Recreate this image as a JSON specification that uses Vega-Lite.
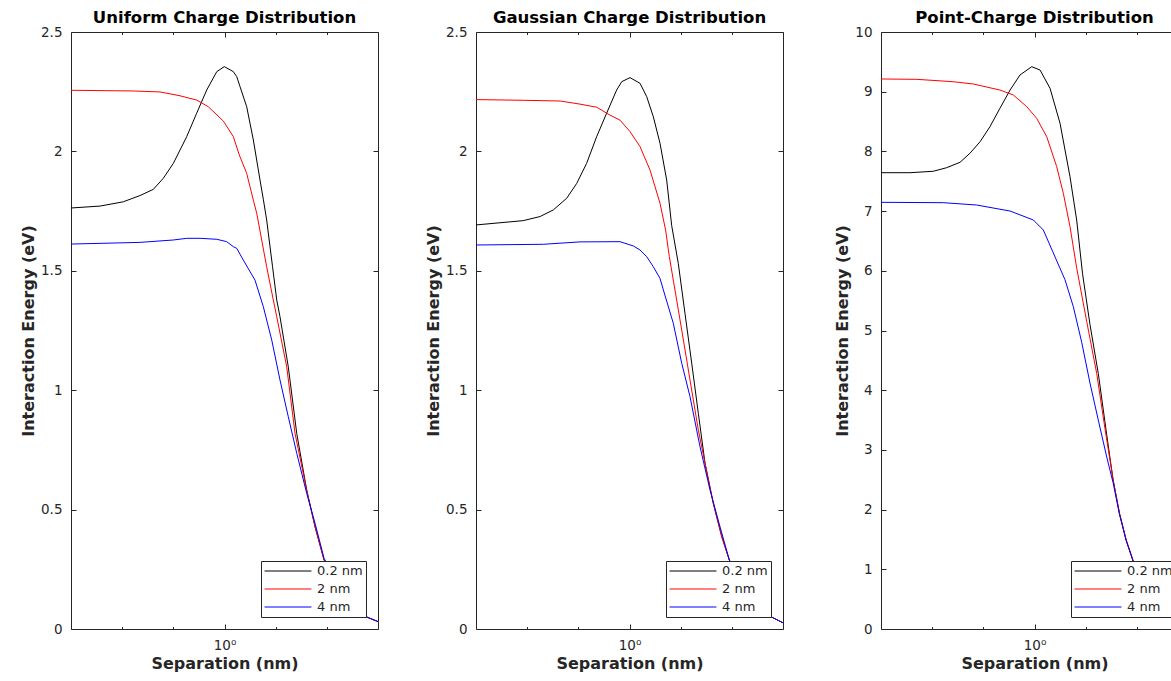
{
"$schema": "https://vega.github.io/schema/vega-lite/v6.json",
"padding": {"left": 20, "top": 9, "right": 0, "bottom": 0},
"background": "white",
"config": {
  "font": "DejaVu Sans",
  "view": {"stroke": null},
  "axis": {"domainColor": "#262626", "tickColor": "#262626", "labelColor": "#262626", "titleColor": "#262626", "labelFontSize": 13.5, "titleFontSize": 16, "titleFontWeight": "bold", "grid": false, "tickSize": -5, "labelPadding": 14, "domainWidth": 1, "tickWidth": 1, "titlePadding": 4},
  "title": {"fontSize": 16.5, "fontWeight": "bold", "color": "#000000", "offset": -1},
  "legend": {"orient": "bottom-right", "offset": 12, "title": null, "symbolType": "stroke", "symbolSize": 2200, "symbolStrokeWidth": 1, "labelFontSize": 13, "labelColor": "#262626", "fillColor": "white", "strokeColor": "#262626", "padding": 3, "rowPadding": 4, "labelOffset": 5, "clipHeight": 14}
},
"datasets": {"d": [
{"p":"U","s":"0.2 nm","x":0.2,"y":1.763},{"p":"U","s":"0.2 nm","x":0.271,"y":1.771},{"p":"U","s":"0.2 nm","x":0.346,"y":1.789},{"p":"U","s":"0.2 nm","x":0.412,"y":1.815},{"p":"U","s":"0.2 nm","x":0.474,"y":1.841},{"p":"U","s":"0.2 nm","x":0.526,"y":1.887},{"p":"U","s":"0.2 nm","x":0.585,"y":1.95},{"p":"U","s":"0.2 nm","x":0.673,"y":2.062},{"p":"U","s":"0.2 nm","x":0.747,"y":2.16},{"p":"U","s":"0.2 nm","x":0.83,"y":2.257},{"p":"U","s":"0.2 nm","x":0.922,"y":2.334},{"p":"U","s":"0.2 nm","x":0.998,"y":2.355},{"p":"U","s":"0.2 nm","x":1.097,"y":2.334},{"p":"U","s":"0.2 nm","x":1.137,"y":2.313},{"p":"U","s":"0.2 nm","x":1.177,"y":2.271},{"p":"U","s":"0.2 nm","x":1.262,"y":2.187},{"p":"U","s":"0.2 nm","x":1.353,"y":2.048},{"p":"U","s":"0.2 nm","x":1.451,"y":1.88},{"p":"U","s":"0.2 nm","x":1.502,"y":1.8},{"p":"U","s":"0.2 nm","x":1.556,"y":1.713},{"p":"U","s":"0.2 nm","x":1.655,"y":1.517},{"p":"U","s":"0.2 nm","x":1.729,"y":1.378},{"p":"U","s":"0.2 nm","x":1.789,"y":1.308},{"p":"U","s":"0.2 nm","x":1.952,"y":1.098},{"p":"U","s":"0.2 nm","x":2.133,"y":0.819},{"p":"U","s":"0.2 nm","x":2.368,"y":0.582},{"p":"U","s":"0.2 nm","x":2.584,"y":0.428},{"p":"U","s":"0.2 nm","x":2.84,"y":0.289},{"p":"U","s":"0.2 nm","x":3.357,"y":0.18},{"p":"U","s":"0.2 nm","x":3.808,"y":0.11},{"p":"U","s":"0.2 nm","x":4.395,"y":0.052},{"p":"U","s":"0.2 nm","x":5.0,"y":0.031},
{"p":"U","s":"2 nm","x":0.2,"y":2.256},{"p":"U","s":"2 nm","x":0.384,"y":2.253},{"p":"U","s":"2 nm","x":0.508,"y":2.249},{"p":"U","s":"2 nm","x":0.627,"y":2.233},{"p":"U","s":"2 nm","x":0.696,"y":2.222},{"p":"U","s":"2 nm","x":0.747,"y":2.215},{"p":"U","s":"2 nm","x":0.844,"y":2.187},{"p":"U","s":"2 nm","x":0.988,"y":2.127},{"p":"U","s":"2 nm","x":1.097,"y":2.062},{"p":"U","s":"2 nm","x":1.168,"y":1.985},{"p":"U","s":"2 nm","x":1.262,"y":1.908},{"p":"U","s":"2 nm","x":1.353,"y":1.796},{"p":"U","s":"2 nm","x":1.402,"y":1.741},{"p":"U","s":"2 nm","x":1.556,"y":1.517},{"p":"U","s":"2 nm","x":1.668,"y":1.378},{"p":"U","s":"2 nm","x":1.729,"y":1.308},{"p":"U","s":"2 nm","x":1.92,"y":1.098},{"p":"U","s":"2 nm","x":2.095,"y":0.819},{"p":"U","s":"2 nm","x":2.368,"y":0.58},{"p":"U","s":"2 nm","x":2.584,"y":0.428},{"p":"U","s":"2 nm","x":2.84,"y":0.289},{"p":"U","s":"2 nm","x":3.357,"y":0.18},{"p":"U","s":"2 nm","x":3.808,"y":0.11},{"p":"U","s":"2 nm","x":4.395,"y":0.052},{"p":"U","s":"2 nm","x":5.0,"y":0.031},
{"p":"U","s":"4 nm","x":0.2,"y":1.612},{"p":"U","s":"4 nm","x":0.412,"y":1.619},{"p":"U","s":"4 nm","x":0.585,"y":1.629},{"p":"U","s":"4 nm","x":0.673,"y":1.636},{"p":"U","s":"4 nm","x":0.774,"y":1.636},{"p":"U","s":"4 nm","x":0.922,"y":1.632},{"p":"U","s":"4 nm","x":1.023,"y":1.622},{"p":"U","s":"4 nm","x":1.097,"y":1.601},{"p":"U","s":"4 nm","x":1.137,"y":1.594},{"p":"U","s":"4 nm","x":1.218,"y":1.545},{"p":"U","s":"4 nm","x":1.377,"y":1.461},{"p":"U","s":"4 nm","x":1.502,"y":1.35},{"p":"U","s":"4 nm","x":1.641,"y":1.21},{"p":"U","s":"4 nm","x":1.789,"y":1.043},{"p":"U","s":"4 nm","x":1.952,"y":0.889},{"p":"U","s":"4 nm","x":2.133,"y":0.736},{"p":"U","s":"4 nm","x":2.368,"y":0.568},{"p":"U","s":"4 nm","x":2.584,"y":0.443},{"p":"U","s":"4 nm","x":2.84,"y":0.296},{"p":"U","s":"4 nm","x":3.357,"y":0.18},{"p":"U","s":"4 nm","x":3.808,"y":0.11},{"p":"U","s":"4 nm","x":4.395,"y":0.052},{"p":"U","s":"4 nm","x":5.0,"y":0.031},
{"p":"G","s":"0.2 nm","x":0.2,"y":1.692},{"p":"G","s":"0.2 nm","x":0.328,"y":1.71},{"p":"G","s":"0.2 nm","x":0.391,"y":1.727},{"p":"G","s":"0.2 nm","x":0.45,"y":1.755},{"p":"G","s":"0.2 nm","x":0.518,"y":1.804},{"p":"G","s":"0.2 nm","x":0.575,"y":1.866},{"p":"G","s":"0.2 nm","x":0.638,"y":1.95},{"p":"G","s":"0.2 nm","x":0.709,"y":2.062},{"p":"G","s":"0.2 nm","x":0.787,"y":2.16},{"p":"G","s":"0.2 nm","x":0.874,"y":2.257},{"p":"G","s":"0.2 nm","x":0.922,"y":2.292},{"p":"G","s":"0.2 nm","x":1.005,"y":2.309},{"p":"G","s":"0.2 nm","x":1.117,"y":2.285},{"p":"G","s":"0.2 nm","x":1.198,"y":2.229},{"p":"G","s":"0.2 nm","x":1.284,"y":2.145},{"p":"G","s":"0.2 nm","x":1.377,"y":2.034},{"p":"G","s":"0.2 nm","x":1.477,"y":1.88},{"p":"G","s":"0.2 nm","x":1.556,"y":1.69},{"p":"G","s":"0.2 nm","x":1.668,"y":1.531},{"p":"G","s":"0.2 nm","x":1.789,"y":1.322},{"p":"G","s":"0.2 nm","x":1.92,"y":1.113},{"p":"G","s":"0.2 nm","x":2.058,"y":0.903},{"p":"G","s":"0.2 nm","x":2.208,"y":0.694},{"p":"G","s":"0.2 nm","x":2.408,"y":0.526},{"p":"G","s":"0.2 nm","x":2.63,"y":0.387},{"p":"G","s":"0.2 nm","x":2.848,"y":0.289},{"p":"G","s":"0.2 nm","x":3.357,"y":0.17},{"p":"G","s":"0.2 nm","x":3.808,"y":0.1},{"p":"G","s":"0.2 nm","x":4.395,"y":0.052},{"p":"G","s":"0.2 nm","x":5.0,"y":0.026},
{"p":"G","s":"2 nm","x":0.2,"y":2.217},{"p":"G","s":"2 nm","x":0.328,"y":2.214},{"p":"G","s":"2 nm","x":0.483,"y":2.211},{"p":"G","s":"2 nm","x":0.595,"y":2.198},{"p":"G","s":"2 nm","x":0.709,"y":2.185},{"p":"G","s":"2 nm","x":0.815,"y":2.152},{"p":"G","s":"2 nm","x":0.905,"y":2.131},{"p":"G","s":"2 nm","x":1.005,"y":2.083},{"p":"G","s":"2 nm","x":1.117,"y":2.02},{"p":"G","s":"2 nm","x":1.24,"y":1.922},{"p":"G","s":"2 nm","x":1.377,"y":1.783},{"p":"G","s":"2 nm","x":1.46,"y":1.671},{"p":"G","s":"2 nm","x":1.518,"y":1.56},{"p":"G","s":"2 nm","x":1.583,"y":1.461},{"p":"G","s":"2 nm","x":1.729,"y":1.252},{"p":"G","s":"2 nm","x":1.886,"y":1.043},{"p":"G","s":"2 nm","x":2.058,"y":0.833},{"p":"G","s":"2 nm","x":2.208,"y":0.694},{"p":"G","s":"2 nm","x":2.408,"y":0.526},{"p":"G","s":"2 nm","x":2.63,"y":0.387},{"p":"G","s":"2 nm","x":2.848,"y":0.289},{"p":"G","s":"2 nm","x":3.357,"y":0.17},{"p":"G","s":"2 nm","x":3.808,"y":0.1},{"p":"G","s":"2 nm","x":4.395,"y":0.052},{"p":"G","s":"2 nm","x":5.0,"y":0.026},
{"p":"G","s":"4 nm","x":0.2,"y":1.608},{"p":"G","s":"4 nm","x":0.405,"y":1.611},{"p":"G","s":"4 nm","x":0.595,"y":1.621},{"p":"G","s":"4 nm","x":0.905,"y":1.622},{"p":"G","s":"4 nm","x":1.041,"y":1.604},{"p":"G","s":"4 nm","x":1.117,"y":1.587},{"p":"G","s":"4 nm","x":1.198,"y":1.559},{"p":"G","s":"4 nm","x":1.284,"y":1.517},{"p":"G","s":"4 nm","x":1.377,"y":1.468},{"p":"G","s":"4 nm","x":1.426,"y":1.42},{"p":"G","s":"4 nm","x":1.583,"y":1.28},{"p":"G","s":"4 nm","x":1.729,"y":1.113},{"p":"G","s":"4 nm","x":1.886,"y":0.973},{"p":"G","s":"4 nm","x":2.095,"y":0.763},{"p":"G","s":"4 nm","x":2.326,"y":0.582},{"p":"G","s":"4 nm","x":2.584,"y":0.428},{"p":"G","s":"4 nm","x":2.848,"y":0.289},{"p":"G","s":"4 nm","x":3.357,"y":0.17},{"p":"G","s":"4 nm","x":3.808,"y":0.1},{"p":"G","s":"4 nm","x":4.395,"y":0.052},{"p":"G","s":"4 nm","x":5.0,"y":0.026},
{"p":"P","s":"0.2 nm","x":0.2,"y":7.643},{"p":"P","s":"0.2 nm","x":0.271,"y":7.643},{"p":"P","s":"0.2 nm","x":0.346,"y":7.667},{"p":"P","s":"0.2 nm","x":0.398,"y":7.727},{"p":"P","s":"0.2 nm","x":0.458,"y":7.817},{"p":"P","s":"0.2 nm","x":0.508,"y":7.968},{"p":"P","s":"0.2 nm","x":0.565,"y":8.162},{"p":"P","s":"0.2 nm","x":0.627,"y":8.414},{"p":"P","s":"0.2 nm","x":0.696,"y":8.722},{"p":"P","s":"0.2 nm","x":0.774,"y":9.028},{"p":"P","s":"0.2 nm","x":0.859,"y":9.28},{"p":"P","s":"0.2 nm","x":0.971,"y":9.419},{"p":"P","s":"0.2 nm","x":1.06,"y":9.363},{"p":"P","s":"0.2 nm","x":1.177,"y":9.057},{"p":"P","s":"0.2 nm","x":1.307,"y":8.471},{"p":"P","s":"0.2 nm","x":1.451,"y":7.576},{"p":"P","s":"0.2 nm","x":1.556,"y":6.851},{"p":"P","s":"0.2 nm","x":1.655,"y":5.95},{"p":"P","s":"0.2 nm","x":1.789,"y":5.1},{"p":"P","s":"0.2 nm","x":1.952,"y":4.28},{"p":"P","s":"0.2 nm","x":2.133,"y":3.25},{"p":"P","s":"0.2 nm","x":2.28,"y":2.5},{"p":"P","s":"0.2 nm","x":2.437,"y":1.94},{"p":"P","s":"0.2 nm","x":2.615,"y":1.49},{"p":"P","s":"0.2 nm","x":2.82,"y":1.127},{"p":"P","s":"0.2 nm","x":3.357,"y":0.72},{"p":"P","s":"0.2 nm","x":3.808,"y":0.45},{"p":"P","s":"0.2 nm","x":4.395,"y":0.2},{"p":"P","s":"0.2 nm","x":5.0,"y":0.12},
{"p":"P","s":"2 nm","x":0.2,"y":9.213},{"p":"P","s":"2 nm","x":0.291,"y":9.207},{"p":"P","s":"2 nm","x":0.427,"y":9.167},{"p":"P","s":"2 nm","x":0.526,"y":9.129},{"p":"P","s":"2 nm","x":0.696,"y":9.028},{"p":"P","s":"2 nm","x":0.801,"y":8.945},{"p":"P","s":"2 nm","x":0.922,"y":8.749},{"p":"P","s":"2 nm","x":1.023,"y":8.554},{"p":"P","s":"2 nm","x":1.137,"y":8.246},{"p":"P","s":"2 nm","x":1.262,"y":7.744},{"p":"P","s":"2 nm","x":1.353,"y":7.298},{"p":"P","s":"2 nm","x":1.451,"y":6.739},{"p":"P","s":"2 nm","x":1.556,"y":6.05},{"p":"P","s":"2 nm","x":1.729,"y":5.15},{"p":"P","s":"2 nm","x":1.92,"y":4.28},{"p":"P","s":"2 nm","x":2.095,"y":3.35},{"p":"P","s":"2 nm","x":2.28,"y":2.5},{"p":"P","s":"2 nm","x":2.437,"y":1.94},{"p":"P","s":"2 nm","x":2.615,"y":1.49},{"p":"P","s":"2 nm","x":2.82,"y":1.127},{"p":"P","s":"2 nm","x":3.357,"y":0.72},{"p":"P","s":"2 nm","x":3.808,"y":0.45},{"p":"P","s":"2 nm","x":4.395,"y":0.2},{"p":"P","s":"2 nm","x":5.0,"y":0.12},
{"p":"P","s":"4 nm","x":0.2,"y":7.147},{"p":"P","s":"4 nm","x":0.384,"y":7.141},{"p":"P","s":"4 nm","x":0.545,"y":7.102},{"p":"P","s":"4 nm","x":0.774,"y":7.001},{"p":"P","s":"4 nm","x":0.988,"y":6.851},{"p":"P","s":"4 nm","x":1.097,"y":6.683},{"p":"P","s":"4 nm","x":1.218,"y":6.3},{"p":"P","s":"4 nm","x":1.377,"y":5.85},{"p":"P","s":"4 nm","x":1.502,"y":5.4},{"p":"P","s":"4 nm","x":1.641,"y":4.8},{"p":"P","s":"4 nm","x":1.789,"y":4.12},{"p":"P","s":"4 nm","x":1.952,"y":3.5},{"p":"P","s":"4 nm","x":2.133,"y":2.88},{"p":"P","s":"4 nm","x":2.28,"y":2.45},{"p":"P","s":"4 nm","x":2.437,"y":1.92},{"p":"P","s":"4 nm","x":2.615,"y":1.48},{"p":"P","s":"4 nm","x":2.82,"y":1.127},{"p":"P","s":"4 nm","x":3.357,"y":0.72},{"p":"P","s":"4 nm","x":3.808,"y":0.45},{"p":"P","s":"4 nm","x":4.395,"y":0.2},{"p":"P","s":"4 nm","x":5.0,"y":0.12}
]},
"data": {"name": "d"},
"bounds": "flush",
"spacing": 98,
"resolve": {"scale": {"x": "independent", "y": "independent", "color": "independent"}, "legend": {"color": "independent"}},
"hconcat": [
{
 "width": 307, "height": 597,
 "title": "Uniform Charge Distribution",
 "transform": [{"filter": "datum.p == 'U'"}],
 "resolve": {"axis": {"x": "independent", "y": "independent"}},
 "layer": [
  {"mark": {"type": "line", "strokeWidth": 1, "clip": true},
   "encoding": {
    "x": {"field": "x", "type": "quantitative", "scale": {"type": "log", "domain": [0.2, 5], "nice": false}, "axis": {"orient": "bottom", "values": [1], "labelExpr": "'10⁰'", "title": "Separation (nm)"}},
    "y": {"field": "y", "type": "quantitative", "scale": {"domain": [0, 2.5], "nice": false}, "axis": {"orient": "left", "values": [0, 0.5, 1, 1.5, 2, 2.5], "format": "~r", "title": "Interaction Energy (eV)"}},
    "color": {"field": "s", "type": "nominal", "scale": {"domain": ["0.2 nm", "2 nm", "4 nm"], "range": ["#000000", "#ff0000", "#0000ff"]}}
   }},
  {"mark": {"type": "point", "opacity": 0},
   "encoding": {
    "x": {"field": "x", "type": "quantitative", "axis": {"orient": "top", "values": [1], "labels": false, "title": null}},
    "y": {"field": "y", "type": "quantitative", "axis": {"orient": "right", "values": [0, 0.5, 1, 1.5, 2, 2.5], "labels": false, "title": null}}
   }},
  {"mark": {"type": "point", "opacity": 0},
   "encoding": {
    "x": {"field": "x", "type": "quantitative", "axis": {"orient": "bottom", "values": [0.342, 0.585, 1.71, 2.924], "labels": false, "title": null, "domain": false, "tickSize": -2.5}},
    "y": {"field": "y", "type": "quantitative", "axis": null}
   }},
  {"mark": {"type": "point", "opacity": 0},
   "encoding": {
    "x": {"field": "x", "type": "quantitative", "axis": {"orient": "top", "values": [0.342, 0.585, 1.71, 2.924], "labels": false, "title": null, "domain": false, "tickSize": -2.5}},
    "y": {"field": "y", "type": "quantitative", "axis": null}
   }}
 ]
},
{
 "width": 307, "height": 597,
 "title": "Gaussian Charge Distribution",
 "transform": [{"filter": "datum.p == 'G'"}],
 "resolve": {"axis": {"x": "independent", "y": "independent"}},
 "layer": [
  {"mark": {"type": "line", "strokeWidth": 1, "clip": true},
   "encoding": {
    "x": {"field": "x", "type": "quantitative", "scale": {"type": "log", "domain": [0.2, 5], "nice": false}, "axis": {"orient": "bottom", "values": [1], "labelExpr": "'10⁰'", "title": "Separation (nm)"}},
    "y": {"field": "y", "type": "quantitative", "scale": {"domain": [0, 2.5], "nice": false}, "axis": {"orient": "left", "values": [0, 0.5, 1, 1.5, 2, 2.5], "format": "~r", "title": "Interaction Energy (eV)"}},
    "color": {"field": "s", "type": "nominal", "scale": {"domain": ["0.2 nm", "2 nm", "4 nm"], "range": ["#000000", "#ff0000", "#0000ff"]}}
   }},
  {"mark": {"type": "point", "opacity": 0},
   "encoding": {
    "x": {"field": "x", "type": "quantitative", "axis": {"orient": "top", "values": [1], "labels": false, "title": null}},
    "y": {"field": "y", "type": "quantitative", "axis": {"orient": "right", "values": [0, 0.5, 1, 1.5, 2, 2.5], "labels": false, "title": null}}
   }},
  {"mark": {"type": "point", "opacity": 0},
   "encoding": {
    "x": {"field": "x", "type": "quantitative", "axis": {"orient": "bottom", "values": [0.342, 0.585, 1.71, 2.924], "labels": false, "title": null, "domain": false, "tickSize": -2.5}},
    "y": {"field": "y", "type": "quantitative", "axis": null}
   }},
  {"mark": {"type": "point", "opacity": 0},
   "encoding": {
    "x": {"field": "x", "type": "quantitative", "axis": {"orient": "top", "values": [0.342, 0.585, 1.71, 2.924], "labels": false, "title": null, "domain": false, "tickSize": -2.5}},
    "y": {"field": "y", "type": "quantitative", "axis": null}
   }}
 ]
},
{
 "width": 307, "height": 597,
 "title": "Point-Charge Distribution",
 "transform": [{"filter": "datum.p == 'P'"}],
 "resolve": {"axis": {"x": "independent", "y": "independent"}},
 "layer": [
  {"mark": {"type": "line", "strokeWidth": 1, "clip": true},
   "encoding": {
    "x": {"field": "x", "type": "quantitative", "scale": {"type": "log", "domain": [0.2, 5], "nice": false}, "axis": {"orient": "bottom", "values": [1], "labelExpr": "'10⁰'", "title": "Separation (nm)"}},
    "y": {"field": "y", "type": "quantitative", "scale": {"domain": [0, 10], "nice": false}, "axis": {"orient": "left", "values": [0, 1, 2, 3, 4, 5, 6, 7, 8, 9, 10], "format": "d", "title": "Interaction Energy (eV)"}},
    "color": {"field": "s", "type": "nominal", "scale": {"domain": ["0.2 nm", "2 nm", "4 nm"], "range": ["#000000", "#ff0000", "#0000ff"]}}
   }},
  {"mark": {"type": "point", "opacity": 0},
   "encoding": {
    "x": {"field": "x", "type": "quantitative", "axis": {"orient": "top", "values": [1], "labels": false, "title": null}},
    "y": {"field": "y", "type": "quantitative", "axis": {"orient": "right", "values": [0, 1, 2, 3, 4, 5, 6, 7, 8, 9, 10], "labels": false, "title": null}}
   }},
  {"mark": {"type": "point", "opacity": 0},
   "encoding": {
    "x": {"field": "x", "type": "quantitative", "axis": {"orient": "bottom", "values": [0.342, 0.585, 1.71, 2.924], "labels": false, "title": null, "domain": false, "tickSize": -2.5}},
    "y": {"field": "y", "type": "quantitative", "axis": null}
   }},
  {"mark": {"type": "point", "opacity": 0},
   "encoding": {
    "x": {"field": "x", "type": "quantitative", "axis": {"orient": "top", "values": [0.342, 0.585, 1.71, 2.924], "labels": false, "title": null, "domain": false, "tickSize": -2.5}},
    "y": {"field": "y", "type": "quantitative", "axis": null}
   }}
 ]
}
]
}
